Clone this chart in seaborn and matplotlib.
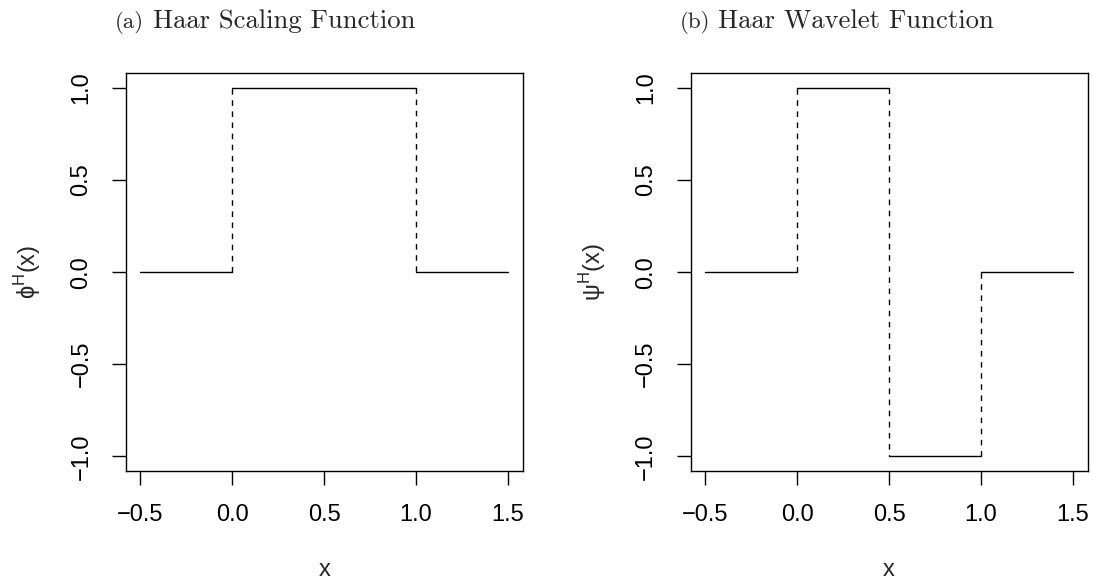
import pandas as pd
import matplotlib.pyplot as plt
import seaborn as sns

# break points and the constant value on each piece
scale_x = [-0.5, 0.0, 1.0, 1.5]
scale_y = [0, 1, 0]
wave_x = [-0.5, 0.0, 0.5, 1.0, 1.5]
wave_y = [0, 1, -1, 0]

x_ticks = [-0.5, 0.0, 0.5, 1.0, 1.5]
y_ticks = [-1.0, -0.5, 0.0, 0.5, 1.0]

panels = [
    ("(a)", "Haar Scaling Function", "\u03d5", scale_x, scale_y),
    ("(b)", "Haar Wavelet Function", "\u03c8", wave_x, wave_y),
]

sns.set_style("ticks")
plt.rcParams["font.family"] = ["Liberation Sans", "DejaVu Sans"]
plt.rcParams["mathtext.fontset"] = "custom"
plt.rcParams["mathtext.rm"] = "Liberation Sans"
plt.rcParams["axes.unicode_minus"] = True


def step_frames(xs, ys):
    flat, jump = [], []
    for i, v in enumerate(ys):
        flat += [(i, xs[i], v), (i, xs[i + 1], v)]
        if i + 1 < len(ys):
            jump += [(i, xs[i + 1], v), (i, xs[i + 1], ys[i + 1])]
    cols = ["seg", "x", "y"]
    return pd.DataFrame(flat, columns=cols), pd.DataFrame(jump, columns=cols)


fig = plt.figure(figsize=(10.93, 5.85), dpi=100)
lefts = [0.1150, 0.6319]

for left, (tag, title, greek, xs, ys) in zip(lefts, panels):
    ax = fig.add_axes([left, 0.1949, 0.3632, 0.6798])
    flat, jump = step_frames(xs, ys)
    sns.lineplot(data=flat, x="x", y="y", units="seg", estimator=None,
                 sort=False, color="black", lw=1.0, ax=ax)
    sns.lineplot(data=jump, x="x", y="y", units="seg", estimator=None,
                 sort=False, color="black", lw=1.0, ls=(0, (4, 4)), ax=ax)

    ax.set_xlim(-0.58, 1.58)
    ax.set_ylim(-1.08, 1.08)
    ax.set_xticks(x_ticks)
    ax.set_yticks(y_ticks)
    ax.set_xticklabels([f"{t:.1f}".replace("-", "\u2212") for t in x_ticks])
    ax.set_yticklabels([f"{t:.1f}".replace("-", "\u2212") for t in y_ticks])
    ax.tick_params(direction="out", length=10, width=1, pad=14,
                   labelsize=17, color="black", labelcolor="black")
    for lab in ax.get_yticklabels():
        lab.set_rotation(90)
        lab.set_va("center")
    for sp in ax.spines.values():
        sp.set_visible(True)
        sp.set_color("black")
        sp.set_linewidth(1.0)

    ax.set_xlabel("x", fontsize=17)
    ax.xaxis.set_label_coords(0.5, -0.25)
    ax.xaxis.label.set_va("center")
    ax.set_ylabel(greek + r"$^{\rm H}$(x)", fontsize=17)
    ax.yaxis.set_label_coords(-0.246, 0.5)
    ax.yaxis.label.set_va("center")

    x0 = left - 0.0098
    fig.text(x0, 0.952, tag, family="cmr10", fontsize=16.5, va="baseline")
    fig.text(x0 + 0.0352, 0.952, title, family="cmr10", fontsize=19.2,
             va="baseline")

fig.savefig("out.png", dpi=100)
